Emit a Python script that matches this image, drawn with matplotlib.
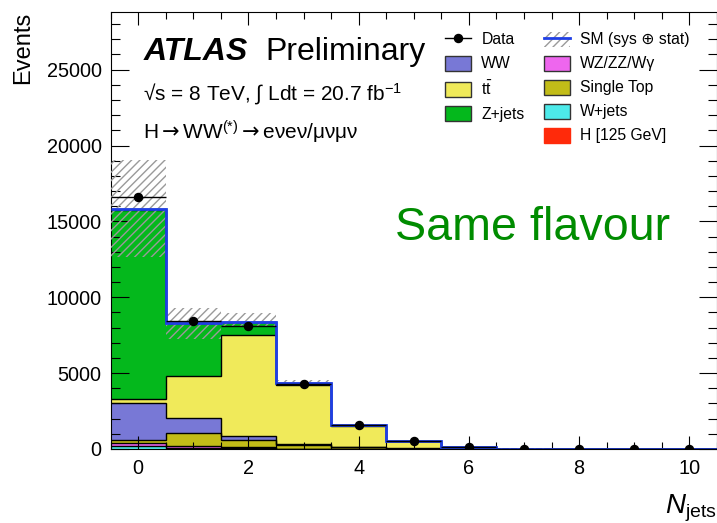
import numpy as np
import matplotlib.pyplot as plt
from matplotlib.patches import Patch
from matplotlib.lines import Line2D
from matplotlib.ticker import MultipleLocator
from matplotlib.legend_handler import HandlerTuple

plt.rcParams["font.family"] = ["Liberation Sans", "DejaVu Sans"]
plt.rcParams["mathtext.fontset"] = "custom"
plt.rcParams["mathtext.rm"] = "Liberation Sans"
plt.rcParams["mathtext.it"] = "Liberation Sans:italic"
plt.rcParams["mathtext.bf"] = "Liberation Sans:bold"
plt.rcParams["mathtext.sf"] = "DejaVu Sans"
plt.rcParams["hatch.linewidth"] = 1.0

# jet multiplicity bins 0..10
njets = np.arange(11)
edges = np.arange(-0.5, 11.0, 1.0)

# background expectations per bin (stacked bottom -> top)
w_jets     = np.array([220,   80,   40,   10,    5,   2,   1,  0, 0, 0, 0])
wz_zz_wg   = np.array([150,  130,   60,   20,   10,   5,   2,  1, 0, 0, 0])
single_top = np.array([200,  860,  510,  230,   90,  25,   6,  2, 0, 0, 0])
ww         = np.array([2450, 960,  220,   60,   20,   6,   2,  1, 0, 0, 0])
ttbar      = np.array([280, 2750, 6660, 3900, 1380, 470, 110, 25, 6, 1, 0])
z_jets     = np.array([12440, 3520, 880, 160,   60,  30,   8,  2, 1, 0, 0])
higgs      = np.array([90,    30,   10,   2,    1,   0,   0,  0, 0, 0, 0])

# total SM uncertainty (sys + stat), up / down
unc_up = np.array([3200, 950, 550, 160, 60, 30, 10, 3, 1, 0, 0])
unc_dn = np.array([3150, 1100, 300, 120, 50, 25, 8, 2, 1, 0, 0])

data = np.array([16600, 8440, 8110, 4270, 1580, 550, 140, 32, 8, 2, 1])

stack = [
    (w_jets, "#4deaea"),
    (wz_zz_wg, "#ee66ee"),
    (single_top, "#c2bc18"),
    (ww, "#7878d6"),
    (ttbar, "#f0ea5a"),
    (z_jets, "#04b81c"),
    (higgs, "#ff2a0a"),
]

fig = plt.figure(figsize=(7.17, 5.23), dpi=100)
ax = fig.add_axes([110.6 / 717, 74 / 523, 606.4 / 717, 437 / 523])

base = np.zeros(len(njets))
for vals, col in stack:
    top = base + vals
    ax.stairs(top, edges, baseline=base, fill=True, color=col, lw=0, zorder=1)
    ax.stairs(top, edges, baseline=None, color="black", lw=1.0, zorder=2)
    base = top
total = base

# uncertainty band + SM line
ax.bar(njets, unc_up + unc_dn, bottom=total - unc_dn, width=1.0, fill=False,
       hatch="////", edgecolor="#9a9a9a", linewidth=0, zorder=3)
ax.stairs(total, edges, baseline=None, color="#1f3fe6", lw=2.0, zorder=4)

ax.errorbar(njets, data, xerr=0.5, yerr=np.sqrt(data), fmt="o", color="black",
            ms=5.8, elinewidth=1.0, capsize=0, zorder=5)

ax.set_xlim(-0.5, 10.5)
ax.set_ylim(0, 28800)
ax.xaxis.set_major_locator(MultipleLocator(2))
ax.xaxis.set_minor_locator(MultipleLocator(0.5))
ax.yaxis.set_major_locator(MultipleLocator(5000))
ax.yaxis.set_minor_locator(MultipleLocator(1000))
ax.tick_params(which="both", direction="in", top=True, right=True, width=0.8,
               labelsize=14.3)
ax.tick_params(axis="x", which="major", length=9.4, pad=7)
ax.tick_params(axis="x", which="minor", length=4.8)
ax.tick_params(axis="y", which="major", length=13, pad=6.5)
ax.tick_params(axis="y", which="minor", length=6.5)
for sp in ax.spines.values():
    sp.set_linewidth(0.8)

ax.set_ylabel("Events", fontsize=17, loc="top")
ax.yaxis.set_label_coords(-0.126, 1.0)
ax.set_xlabel(r"$N_{\rm jets}$", fontsize=20, loc="right")
ax.xaxis.set_label_coords(1.0, -0.10)

ax.text(0.0537, 0.890, "ATLAS", fontsize=23, weight="bold", style="italic",
        transform=ax.transAxes)
ax.text(0.2546, 0.890, "Preliminary", fontsize=23, transform=ax.transAxes)
ax.text(0.0537, 0.797, r"√s = 8 TeV, ∫ Ldt = 20.7 fb$^{-1}$", fontsize=15,
        transform=ax.transAxes)
ax.text(0.0537, 0.709,
        r"H$\mathsf{{\rightarrow}}$WW$^{(*)}$$\mathsf{{\rightarrow}}$eνeν/μνμν",
        fontsize=15, transform=ax.transAxes)
ax.text(0.469, 0.478, "Same flavour", fontsize=33.6, color="#008c00",
        transform=ax.transAxes)

# legend, two columns
h_data = Line2D([], [], color="black", marker="o", ms=5.8, lw=1.0)
h_sm = (Patch(facecolor="white", edgecolor="#9a9a9a", hatch="////", lw=0),
        Line2D([], [], color="#1f3fe6", lw=2.0))
legend_kw = dict(fontsize=11.3, frameon=False, handlelength=1.67,
                 handleheight=1.09, labelspacing=0.52, handletextpad=0.64,
                 borderpad=0, borderaxespad=0, loc="upper left")

leg1 = ax.legend(
    [h_data,
     Patch(facecolor="#7878d6", edgecolor="#333333", lw=1),
     Patch(facecolor="#f0ea5a", edgecolor="#333333", lw=1),
     Patch(facecolor="#04b81c", edgecolor="#333333", lw=1)],
    ["Data", "WW", r"t$\bar{\rm t}$", "Z+jets"],
    bbox_to_anchor=(0.5515, 0.955), **legend_kw)
ax.add_artist(leg1)
ax.legend(
    [h_sm,
     Patch(facecolor="#ee66ee", edgecolor="#333333", lw=1),
     Patch(facecolor="#c2bc18", edgecolor="#333333", lw=1),
     Patch(facecolor="#4deaea", edgecolor="#333333", lw=1),
     Patch(facecolor="#ff2a0a", edgecolor="#ff2a0a", lw=1)],
    ["SM (sys ⊕ stat)", "WZ/ZZ/Wγ", "Single Top", "W+jets", "H [125 GeV]"],
    handler_map={tuple: HandlerTuple(ndivide=1)},
    bbox_to_anchor=(0.7148, 0.955), **legend_kw)

fig.savefig("out.png", dpi=100)
